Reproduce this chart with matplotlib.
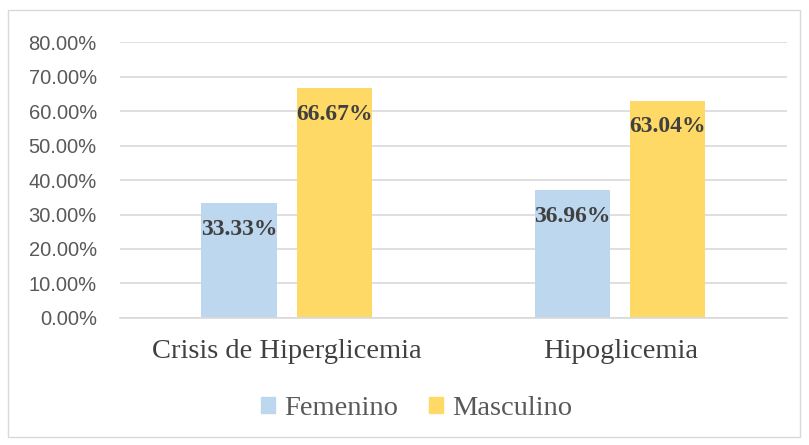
import matplotlib.pyplot as plt
from matplotlib.patches import Rectangle, Patch
import numpy as np

# datos
categorias = ['Crisis de Hiperglicemia', 'Hipoglicemia']
femenino = [33.33, 36.96]
masculino = [66.67, 63.04]
series = ['Femenino', 'Masculino']
colores = ['#BDD7EE', '#FFD966']

fig = plt.figure(figsize=(8.09, 4.45), dpi=100)
ax = fig.add_axes([0.148, 0.2854, 0.825, 0.6202])

# marco exterior
fig.patches.append(Rectangle((8 / 809, 8 / 445), 792 / 809, 427 / 445,
                             transform=fig.transFigure, fill=False,
                             edgecolor='#D9D9D9', linewidth=1))

x = np.arange(len(categorias))
ancho = 0.225
desp = 0.1426
for vals, off, col in [(femenino, -desp, colores[0]), (masculino, desp, colores[1])]:
    barras = ax.bar(x + off, vals, ancho, color=col, zorder=2)
    for b, v in zip(barras, vals):
        ax.annotate(f'{v:.2f}%', (b.get_x() + b.get_width() / 2, v),
                    xytext=(0, -19), textcoords='offset points',
                    ha='center', va='center', fontsize=17, fontweight='bold',
                    family='Liberation Serif', color='#404040', zorder=3)

ax.set_xlim(-0.5, 1.5)
ax.set_ylim(0, 80)
ax.set_yticks(np.arange(0, 81, 10))
ax.set_yticklabels([f'{t:.2f}%' for t in np.arange(0, 81, 10)],
                   family='Liberation Sans', fontsize=14.5, color='#595959')
ax.set_xticks(x)
ax.set_xticklabels(categorias, family='Liberation Serif', fontsize=20.5, color='#404040')
ax.tick_params(axis='both', length=0)
ax.tick_params(axis='y', pad=16.5)
ax.tick_params(axis='x', pad=15)
ax.grid(axis='y', color='#D9D9D9', linewidth=1.2, zorder=0)
for s in ['top', 'right', 'left']:
    ax.spines[s].set_visible(False)
ax.spines['bottom'].set_color('#D9D9D9')
ax.spines['bottom'].set_linewidth(1.2)

handles = [Patch(color=c, label=s) for c, s in zip(colores, series)]
fig.legend(handles=handles, loc='center', bbox_to_anchor=(0.515, 0.081), ncol=2,
           frameon=False, prop={'family': 'Liberation Serif', 'size': 20.5},
           labelcolor='#595959', handlelength=0.5, handleheight=0.5,
           handletextpad=0.3, columnspacing=1.1)

fig.savefig('out.png', dpi=100)
